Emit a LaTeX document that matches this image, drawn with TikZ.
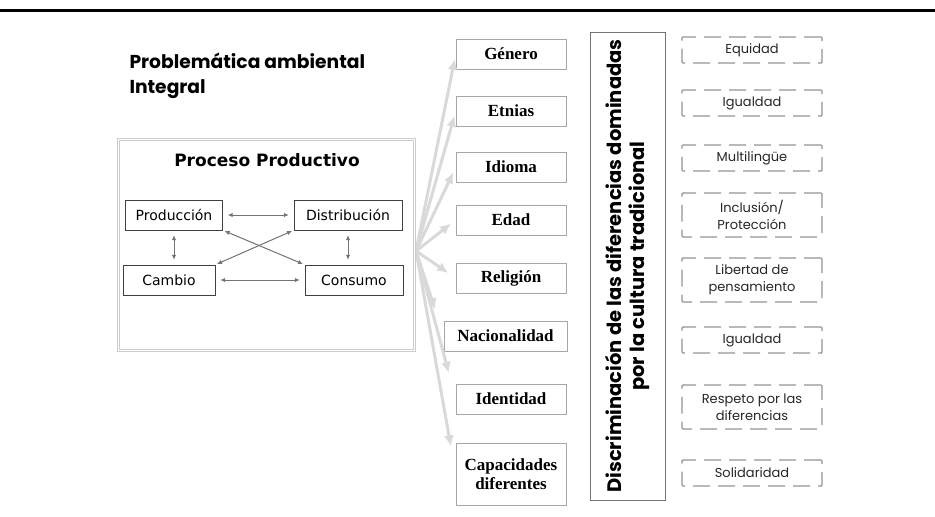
\documentclass[tikz,border=0pt]{standalone}
\usepackage{fontspec}
\setmainfont{DejaVu Sans}
\newfontfamily\gothic{Poppins}
\newfontfamily\garamond{Liberation Serif}
\usetikzlibrary{arrows.meta,positioning}

\begin{document}
\begin{tikzpicture}[x=1pt,y=-1pt,
    etapa/.style={draw=black!75,inner sep=0pt,minimum height=30pt,font=\fontsize{14}{16}\selectfont},
    rasgo/.style={draw=black!35,fill=white,inner sep=0pt,minimum width=110pt,minimum height=30pt,
      align=center,font=\garamond\bfseries\fontsize{17}{19.5}\selectfont},
    valor/.style={draw=black!42,line width=1.4pt,dash pattern=on 17pt off 8pt,rounded corners=1pt,
      inner sep=0pt,minimum width=140pt,minimum height=26pt,align=center,
      font=\gothic\fontsize{13}{17}\selectfont,text=black!85},
    rel/.style={black!55,line width=1pt,{Latex[length=5pt,width=4.5pt]}-{Latex[length=5pt,width=4.5pt]},
      shorten <=5pt,shorten >=5pt},
    rayo/.style={black!15,line width=3pt,-{Latex[length=11pt,width=10pt]}}]
    \useasboundingbox (0,0) rectangle (935,517);
    \draw[line width=3pt] (0,10) -- (935,10);
    \node[anchor=west,align=left,font=\gothic\bfseries\fontsize{18.7}{25}\selectfont] at (126,76) (titulo)
      {Problemática ambiental\\Integral};

    % columna de rasgos
    \node[rasgo] at (511,54) (gen) {Género};
    \node[rasgo] at (511,111) (etn) {Etnias};
    \node[rasgo] at (511,167) (idi) {Idioma};
    \node[rasgo] at (511,220) (eda) {Edad};
    \node[rasgo] at (511,278) (rel) {Religión};
    \node[rasgo,minimum width=123pt] at (505.5,336) (nac) {Nacionalidad};
    \node[rasgo] at (511,399) (ide) {Identidad};
    \node[rasgo,minimum height=62pt] at (511,474) (cap) {Capacidades\\diferentes};

    \coordinate (fan) at (416,251);
    \draw[rayo,shorten >=5pt] (fan) -- (gen.west);
    \draw[rayo,shorten >=5pt] (fan) -- (etn.west);
    \draw[rayo,shorten >=6pt] (fan) -- (idi.west);
    \draw[rayo,shorten >=6pt] (fan) -- (eda.west);
    \draw[rayo,shorten >=9pt] (fan) -- (rel.west);
    \draw[rayo,shorten >=28pt] (fan) -- (nac.west);
    \draw[rayo,shorten >=27pt] (fan) -- (ide.west);
    \draw[rayo,shorten >=28pt] (fan) -- (cap.west);

    % proceso productivo
    \node[draw=black!20,double=white,double distance=1.5pt,fill=white,minimum width=296pt,minimum height=211pt]
      at (266.5,245) (proc) {};
    \node[font=\bfseries\fontsize{17}{20}\selectfont] at (267,160) (proct) {Proceso Productivo};
    \node[etapa,minimum width=97pt] at (174,215) (prod) {Producción};
    \node[etapa,minimum width=108pt] at (348,215) (dist) {Distribución};
    \node[etapa,minimum width=92pt] at (169,280) (camb) {Cambio};
    \node[etapa,minimum width=98pt] at (354,280) (cons) {Consumo};
    \draw[rel] (prod) -- (dist);
    \draw[rel] (camb) -- (cons);
    \draw[rel] (prod) -- (prod|-camb.north);
    \draw[rel] (dist) -- (dist|-cons.north);
    \draw[rel,shorten <=2pt,shorten >=2pt] (prod.south east) -- (cons.north west);
    \draw[rel,shorten <=2pt,shorten >=2pt] (dist.south west) -- (camb.north east);

    % caja vertical
    \node[draw=black!55,rotate=90,minimum width=468pt,minimum height=75pt,align=center,
      font=\gothic\bfseries\fontsize{19.5}{23}\selectfont] at (627.5,266) (disc)
      {Discriminación de las diferencias dominadas\\por la cultura tradicional};

    % valores
    \node[valor] at (752,50) (v1) {Equidad};
    \node[valor] at (752,103) (v2) {Igualdad};
    \node[valor] at (752,158) (v3) {Multilingüe};
    \node[valor,minimum height=44pt] at (752,215) (v4) {Inclusión/\\Protección};
    \node[valor,minimum height=44pt] at (752,280) (v5) {Libertad de\\pensamiento};
    \node[valor] at (752,340) (v6) {Igualdad};
    \node[valor,minimum height=44pt] at (752,407) (v7) {Respeto por las\\diferencias};
    \node[valor] at (752,473) (v8) {Solidaridad};
\end{tikzpicture}
\end{document}
